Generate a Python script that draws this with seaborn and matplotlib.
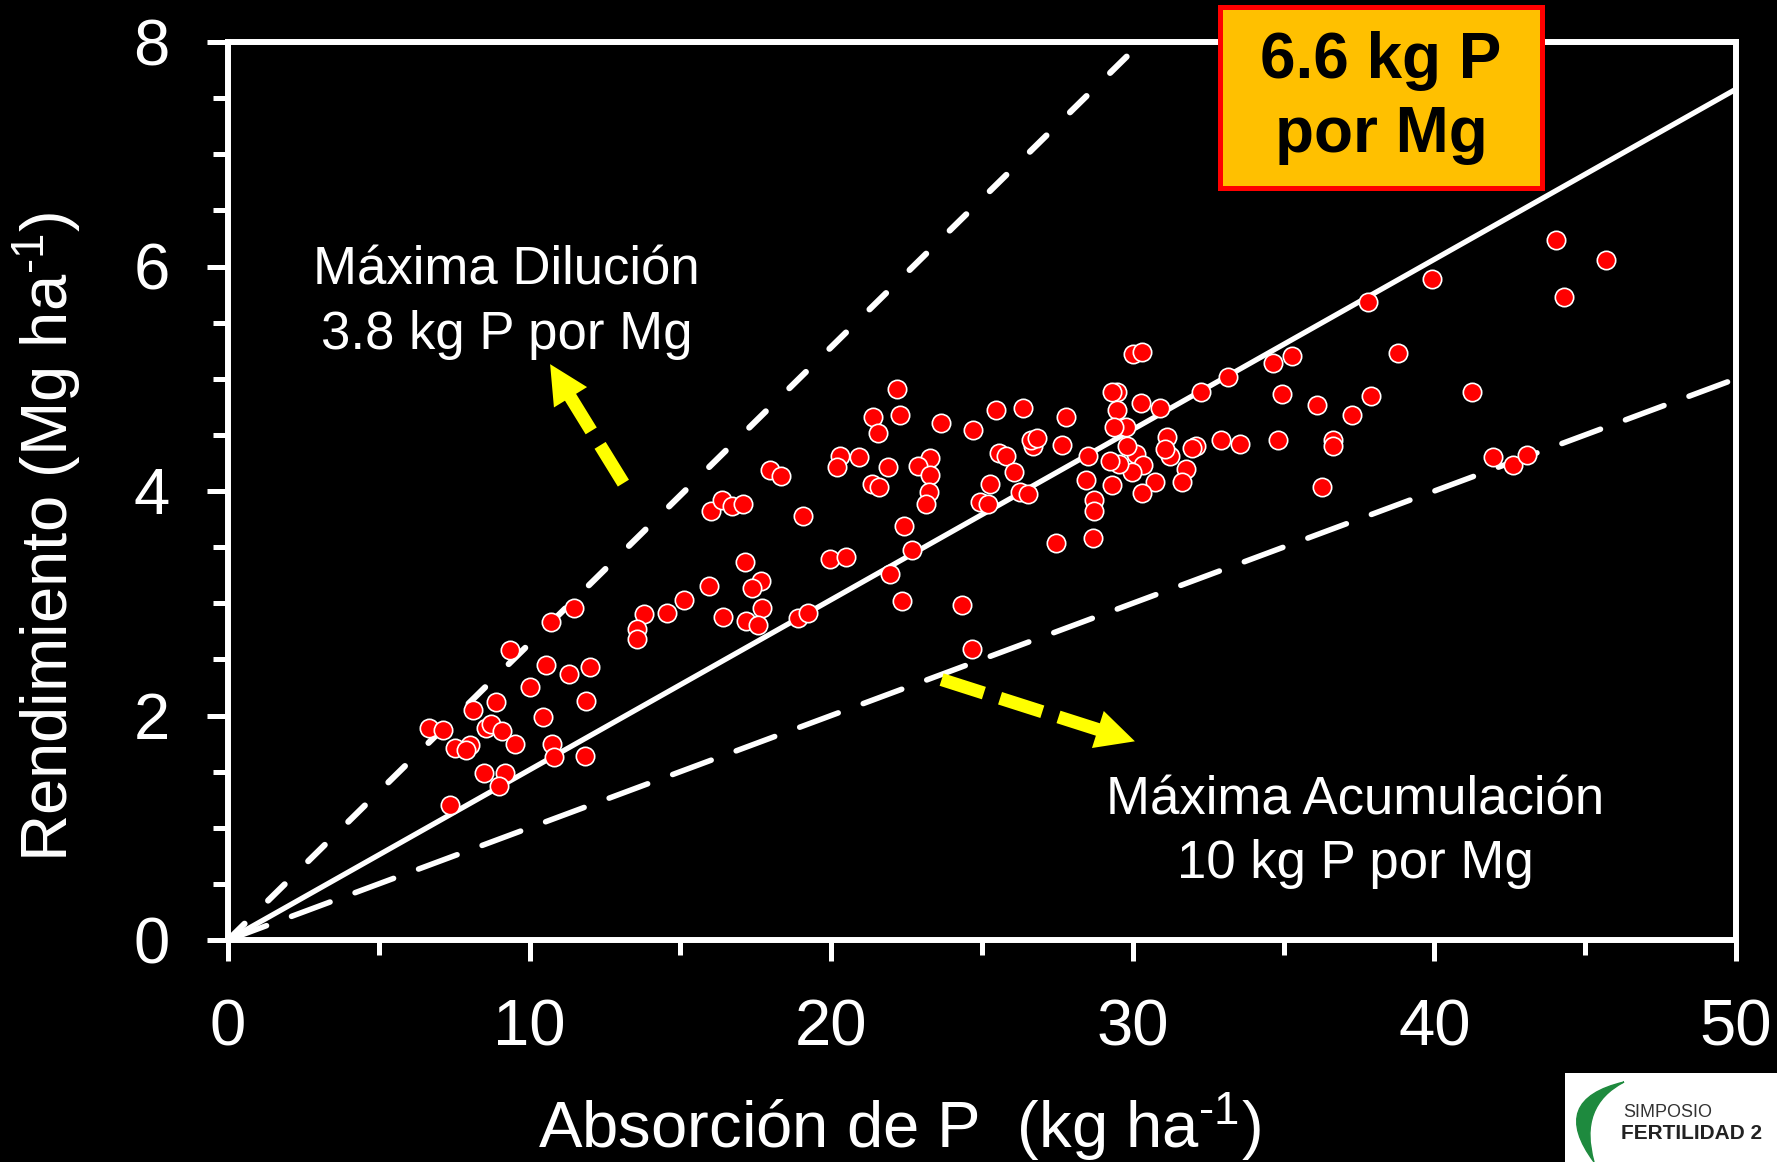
import matplotlib
matplotlib.use("Agg")
import matplotlib.pyplot as plt
import seaborn as sns
import pandas as pd
from matplotlib.patches import Rectangle, PathPatch
from matplotlib.path import Path
from matplotlib.ticker import MultipleLocator

# ---------------- data ----------------
absorcion_p = [
    21.38, 21.56, 20.29, 20.20, 20.93, 21.34, 17.97, 18.33, 16.00, 16.39, 16.72, 17.09,
    19.05, 17.15, 17.66, 17.38, 17.71, 17.16, 17.56, 15.95, 16.42, 19.96, 20.48, 18.91,
    19.24, 15.12, 14.57, 13.80, 13.55, 13.57, 11.46, 10.70, 9.35, 10.53, 11.30, 12.01,
    10.02, 11.88, 8.88, 8.12, 10.45, 6.66, 7.12, 8.55, 8.72, 9.08, 8.02, 7.52, 7.89,
    9.52, 10.73, 10.80, 11.84, 8.49, 9.19, 9.00, 7.36,
    30.00, 30.29, 22.17, 22.27, 23.63, 24.71, 25.48, 26.35, 27.77, 29.47, 29.32, 29.49,
    30.26, 30.90, 32.26, 33.15, 34.66, 35.27, 34.96, 34.82, 33.57, 32.91, 32.10, 31.95,
    31.12, 31.23, 31.07, 31.75, 31.62, 30.74, 30.32, 30.11, 30.35, 29.96, 29.55, 29.25,
    29.77, 29.38, 29.80, 29.32, 28.53, 28.45, 28.70, 28.71, 28.69, 27.44, 27.65, 26.70,
    26.61, 26.81, 25.57, 25.81, 26.06, 26.26, 26.51, 25.27, 24.93, 25.21, 23.29, 22.89,
    23.29, 23.25, 23.14, 21.89, 21.60, 22.41, 22.67, 21.95, 22.34, 24.33, 24.68,
    44.03, 45.69, 44.31, 39.92, 37.81, 38.79, 41.25, 36.12, 37.89, 37.27, 36.65, 36.63,
    36.26, 41.93, 42.62, 43.06,
]
rendimiento = [
    4.66, 4.52, 4.31, 4.21, 4.30, 4.06, 4.19, 4.13, 3.82, 3.92, 3.87, 3.88,
    3.78, 3.37, 3.20, 3.14, 2.96, 2.84, 2.81, 3.15, 2.88, 3.39, 3.41, 2.87,
    2.91, 3.03, 2.91, 2.90, 2.77, 2.68, 2.96, 2.83, 2.58, 2.45, 2.37, 2.43,
    2.25, 2.13, 2.12, 2.05, 1.99, 1.89, 1.87, 1.89, 1.92, 1.86, 1.74, 1.71, 1.69,
    1.75, 1.75, 1.63, 1.64, 1.49, 1.49, 1.37, 1.20,
    5.22, 5.24, 4.91, 4.68, 4.61, 4.54, 4.72, 4.74, 4.66, 4.88, 4.88, 4.72,
    4.78, 4.74, 4.88, 5.02, 5.14, 5.20, 4.86, 4.45, 4.42, 4.45, 4.40, 4.38,
    4.48, 4.31, 4.37, 4.20, 4.08, 4.08, 3.98, 4.33, 4.23, 4.17, 4.24, 4.27,
    4.57, 4.57, 4.40, 4.05, 4.31, 4.10, 3.92, 3.82, 3.58, 3.54, 4.41, 4.40,
    4.45, 4.47, 4.34, 4.31, 4.17, 3.99, 3.97, 4.06, 3.90, 3.88, 4.29, 4.22,
    4.14, 3.99, 3.88, 4.21, 4.04, 3.69, 3.47, 3.26, 3.02, 2.98, 2.59,
    6.24, 6.06, 5.73, 5.89, 5.68, 5.23, 4.88, 4.77, 4.85, 4.68, 4.45, 4.40,
    4.04, 4.30, 4.23, 4.32,
]

# reference lines (end points)
linea_media_x = [0, 50]
linea_media_y = [0, 7.58]        # 6.6 kg P por Mg
linea_dilucion_x = [0, 30.1]
linea_dilucion_y = [0, 7.95]     # 3.8 kg P por Mg
linea_acumulacion_x = [0, 50]
linea_acumulacion_y = [0, 5.0]   # 10 kg P por Mg

x_ticks = [0, 10, 20, 30, 40, 50]
y_ticks = [0, 2, 4, 6, 8]

texto_caja = "6.6 kg P\npor Mg"
texto_dilucion = "Máxima Dilución\n3.8 kg P por Mg"
texto_acumulacion = "Máxima Acumulación\n10 kg P por Mg"
xlabel = "Absorción de P  (kg ha$^{\\text{-1}}$)"
ylabel = "Rendimiento (Mg ha$^{\\text{-1}}$)"

# ---------------- style ----------------
sns.set_theme(style="dark")
plt.rcParams["font.family"] = ["Liberation Sans", "DejaVu Sans"]
plt.rcParams["mathtext.fontset"] = "custom"
plt.rcParams["mathtext.rm"] = "Liberation Sans"
plt.rcParams["mathtext.it"] = "Liberation Sans"
plt.rcParams["mathtext.bf"] = "Liberation Sans:bold"

W, H = 1777, 1162
fig = plt.figure(figsize=(W / 100, H / 100), dpi=100, facecolor="black")
ax = fig.add_axes([228 / W, (H - 940) / H, (1736 - 228) / W, (940 - 42) / H])
ax.set_facecolor("black")
ax.grid(False)

df = pd.DataFrame({"absorcion": absorcion_p, "rendimiento": rendimiento})

WHITE = "white"
sns.lineplot(x=linea_media_x, y=linea_media_y, ax=ax, color=WHITE, lw=3.8,
             estimator=None, sort=False, zorder=3)
sns.lineplot(x=linea_dilucion_x, y=linea_dilucion_y, ax=ax, color=WHITE, lw=4.4,
             linestyle=(0, (3.8, 5.4)), dash_capstyle="round",
             estimator=None, sort=False, zorder=3)
sns.lineplot(x=linea_acumulacion_x, y=linea_acumulacion_y, ax=ax, color=WHITE, lw=4.0,
             linestyle=(0, (7.4, 4.8)), dash_capstyle="round",
             estimator=None, sort=False, zorder=3)

sns.scatterplot(data=df, x="absorcion", y="rendimiento", ax=ax, color="#FF0000",
                edgecolor="white", linewidth=1.2, s=175, zorder=5, legend=False)

ax.set_xlim(0, 50)
ax.set_ylim(0, 8)
ax.set_xticks(x_ticks)
ax.set_yticks(y_ticks)
ax.xaxis.set_minor_locator(MultipleLocator(5))
ax.yaxis.set_minor_locator(MultipleLocator(0.5))
ax.tick_params(which="both", direction="out", color=WHITE, width=3.6,
               bottom=True, left=True, top=False, right=False)
ax.tick_params(which="major", length=15, labelsize=47, labelcolor=WHITE, pad=27)
ax.tick_params(which="minor", length=11)
for sp in ax.spines.values():
    sp.set_visible(True)
    sp.set_color(WHITE)
    sp.set_linewidth(4.3)

ax.set_xlabel(xlabel, fontsize=47, color=WHITE, va="center")
ax.xaxis.set_label_coords((899.5 - 228) / 1508, (940 - 1127) / 898)
ax.set_ylabel(ylabel, fontsize=47, color=WHITE, va="center", ha="center")
ax.yaxis.set_label_coords((47 - 228) / 1508, (940 - 537) / 898)

# annotations
ax.text(9.24, 5.68, texto_dilucion, fontsize=38, color=WHITE, ha="center",
        va="center", linespacing=1.37, zorder=6)
ax.text(37.38, 0.96, texto_acumulacion, fontsize=38, color=WHITE, ha="center",
        va="center", linespacing=1.37, zorder=6)

YEL = "#FFFF00"
flechas = [((13.11, 4.07), (10.68, 5.13)), ((23.66, 2.32), (30.07, 1.77))]
for tail, tip in flechas:
    ax.annotate("", xy=tip, xytext=tail,
                arrowprops=dict(arrowstyle="-", color=YEL, lw=9.4,
                                linestyle=(0, (3.4, 1.3)), shrinkA=0, shrinkB=24,
                                capstyle="butt"), zorder=6)
    ax.annotate("", xy=tip, xytext=tail,
                arrowprops=dict(arrowstyle="-|>,head_length=28,head_width=14",
                                mutation_scale=1, color=YEL, lw=0,
                                shrinkA=0, shrinkB=0), zorder=6)

# boxed slope label
fig.patches.append(Rectangle((1220 / W, 1 - 188 / H), 322 / W, 181 / H,
                             transform=fig.transFigure, facecolor="#FFC000",
                             edgecolor="#FF0000", lw=3.6, zorder=2))
fig.text(1381 / W, 1 - 98 / H, texto_caja, fontsize=46, fontweight="bold",
         color="black", ha="center", va="center", linespacing=1.28, zorder=3)

# logo fragment (bottom right)
fig.patches.append(Rectangle((1565 / W, 0), 212 / W, 89 / H,
                             transform=fig.transFigure, facecolor="white",
                             edgecolor="none", zorder=2))
def px(x, y):
    return (x / W, 1 - y / H)
verts = [px(1624, 1082), px(1548, 1100), px(1594, 1162),
         px(1578, 1106), px(1624, 1082)]
codes = [Path.MOVETO, Path.CURVE3, Path.CURVE3, Path.CURVE3, Path.CURVE3]
fig.patches.append(PathPatch(Path(verts, codes), transform=fig.transFigure,
                             facecolor="#1E8A3E", edgecolor="#1E8A3E", lw=1, zorder=3))
fig.text(1623 / W, 1 - 1117 / H, "SIMPOSIO", fontsize=13, color="#333333",
         ha="left", va="baseline", zorder=4)
fig.text(1621 / W, 1 - 1139 / H, "FERTILIDAD 2", fontsize=15, fontweight="bold",
         color="#222222", ha="left", va="baseline", zorder=4)

fig.savefig("out.png", dpi=100, facecolor="black")
